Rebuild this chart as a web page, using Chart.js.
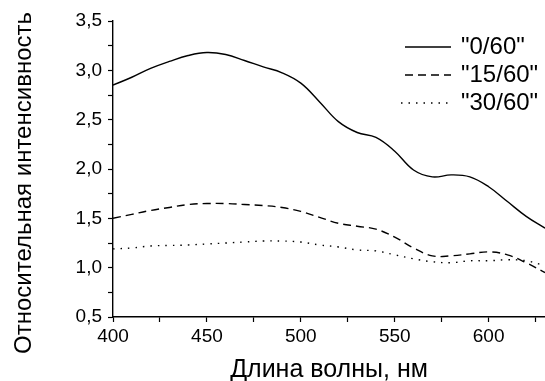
<!DOCTYPE html>
<html lang="ru">
<head>
<meta charset="utf-8">
<title>Относительная интенсивность</title>
<script src="https://cdn.jsdelivr.net/npm/chart.js@4/dist/chart.umd.min.js"></script>
<style>
    html, body { margin: 0; padding: 0; background: #fff; }
    #wrap { width: 545px; height: 381px; position: relative; }
</style>
</head>
<body>
<div id="wrap"><canvas id="spectrumChart"></canvas></div>
<script>
// --- DATA ---
const wavelengths = [400, 410, 420, 430, 440, 450, 460, 470, 480, 490, 500, 510, 520, 530, 540, 550, 560, 570, 580, 590, 600, 610, 620, 630];
const series0 = [2.85, 2.93, 3.02, 3.09, 3.15, 3.18, 3.16, 3.10, 3.035, 2.975, 2.87, 2.68, 2.48, 2.37, 2.32, 2.18, 1.99, 1.92, 1.94, 1.92, 1.82, 1.67, 1.52, 1.40];
const series15 = [1.50, 1.54, 1.58, 1.61, 1.64, 1.65, 1.65, 1.64, 1.63, 1.61, 1.57, 1.51, 1.45, 1.42, 1.39, 1.31, 1.20, 1.12, 1.12, 1.14, 1.16, 1.13, 1.05, 0.95];
const series30 = [1.19, 1.20, 1.22, 1.225, 1.23, 1.24, 1.25, 1.26, 1.27, 1.27, 1.26, 1.23, 1.21, 1.18, 1.17, 1.13, 1.09, 1.06, 1.05, 1.07, 1.07, 1.08, 1.07, 1.02];
const seriesLabels = ['"0/60"', '"15/60"', '"30/60"'];
const xTitle = 'Длина волны, нм';
const yTitle = 'Относительная интенсивность';

document.addEventListener('DOMContentLoaded', () => {
    const FONT = '"Liberation Sans", Arial, sans-serif';
    const dashes = [[], [8, 5], [1.5, 6]];

    const toPoints = (vals) => vals.map((v, i) => ({ x: wavelengths[i], y: v }));

    const datasets = [series0, series15, series30].map((vals, i) => ({
        label: seriesLabels[i],
        data: toPoints(vals),
        borderColor: '#000',
        borderWidth: 1.4,
        borderDash: dashes[i],
        pointRadius: 0,
        tension: 0.4,
        fill: false
    }));

    // legend + axis titles drawn by hand so they sit where the original has them
    const decorPlugin = {
        id: 'decor',
        afterDraw(chart) {
            const ctx = chart.ctx;
            ctx.save();
            ctx.fillStyle = '#000';
            ctx.strokeStyle = '#000';
            ctx.font = `24px ${FONT}`;
            ctx.textBaseline = 'middle';

            const rows = [47, 75, 103];
            rows.forEach((y, i) => {
                ctx.beginPath();
                ctx.setLineDash(dashes[i]);
                ctx.lineWidth = 1.4;
                ctx.moveTo(i === 2 ? 401 : 405, y);
                ctx.lineTo(451, y);
                ctx.stroke();
                ctx.setLineDash([]);
                ctx.textAlign = 'left';
                ctx.fillText(seriesLabels[i], 461, y);
            });

            ctx.textBaseline = 'alphabetic';
            ctx.textAlign = 'center';
            ctx.font = `25px ${FONT}`;
            ctx.fillText(xTitle, 329, 377);

            ctx.font = `24px ${FONT}`;
            ctx.translate(31, 183);
            ctx.rotate(-Math.PI / 2);
            ctx.fillText(yTitle, 0, 0);
            ctx.restore();
        }
    };

    const axisStyle = {
        border: { display: true, color: '#000', width: 1.4 },
        grid: { display: true, drawOnChartArea: false, drawTicks: true, tickLength: 5, color: '#000', tickWidth: 1.2 }
    };

    new Chart(document.getElementById('spectrumChart'), {
        type: 'line',
        data: { datasets },
        options: {
            responsive: true,
            maintainAspectRatio: false,
            animation: false,
            events: [],
            layout: { padding: { top: 21, right: 0, left: 0, bottom: 0 } },
            plugins: { legend: { display: false }, tooltip: { enabled: false } },
            scales: {
                x: {
                    type: 'linear',
                    min: 400,
                    max: 630,
                    ...axisStyle,
                    afterFit: (scale) => { scale.height = 64; },
                    ticks: {
                        stepSize: 25,
                        includeBounds: false,
                        autoSkip: false,
                        maxRotation: 0,
                        padding: 3,
                        color: '#000',
                        font: { family: FONT, size: 19 },
                        callback: (v) => (v % 50 === 0 ? String(v) : '')
                    }
                },
                y: {
                    min: 0.5,
                    max: 3.5,
                    ...axisStyle,
                    afterFit: (scale) => { scale.width = 113; },
                    ticks: {
                        stepSize: 0.25,
                        includeBounds: false,
                        autoSkip: false,
                        padding: 6,
                        color: '#000',
                        font: { family: FONT, size: 19 },
                        callback: (v) => (Math.abs(v * 2 - Math.round(v * 2)) < 1e-6 ? v.toFixed(1).replace('.', ',') : '')
                    }
                }
            }
        },
        plugins: [decorPlugin]
    });
});
</script>
</body>
</html>
